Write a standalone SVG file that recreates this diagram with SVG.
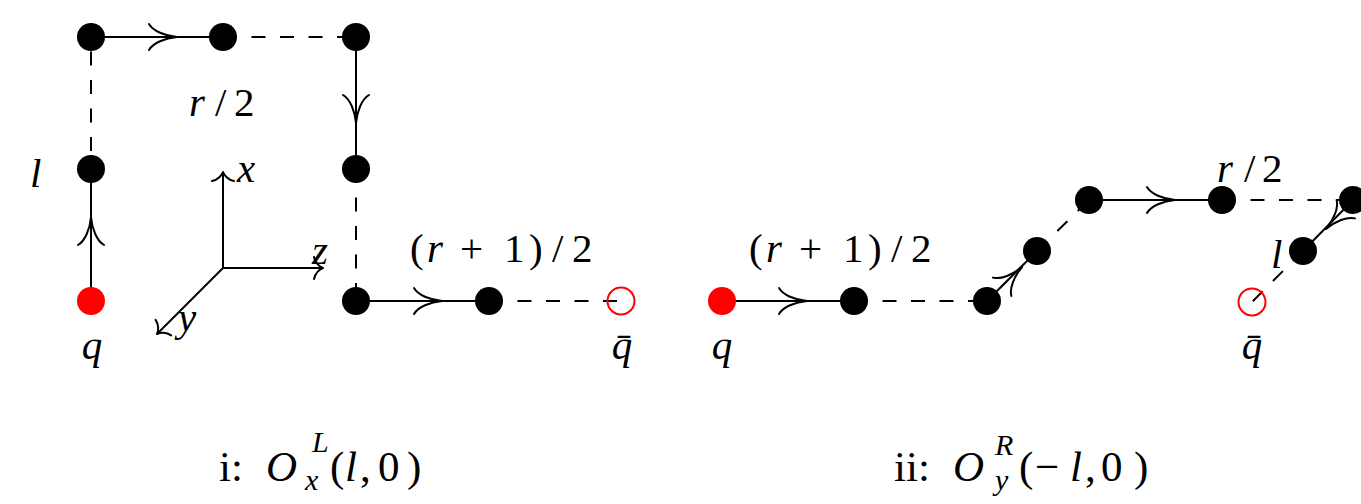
<svg xmlns="http://www.w3.org/2000/svg" width="1361" height="504" viewBox="0 0 1361 504">
<style>
.solid{stroke:#000;stroke-width:2;fill:none}
.dash{stroke:#000;stroke-width:2;fill:none;stroke-dasharray:14 14.5}
.ah{stroke:#000;stroke-width:2;fill:none;stroke-linecap:round}
.dot{fill:#000}
.red{fill:#ff0000}
.open{fill:none;stroke:#ff0000;stroke-width:2}
.t{font-family:"Liberation Serif","Times New Roman",serif;font-size:41px;fill:#000}
.cap{font-family:"Liberation Serif","Times New Roman",serif;font-size:43px;fill:#000}
.sc{font-family:"Liberation Serif","Times New Roman",serif;font-size:30px;fill:#000;font-style:italic}
.i{font-style:italic}
</style>
<defs>
<path id="ah" class="ah" d="M-28,-13 C-24,-6 -12,-1 0,0 M-28,13 C-24,6 -12,1 0,0"/>
<path id="sah" class="ah" d="M-9,-11 C-8,-5 -3,-1 0,0 M-9,11 C-8,5 -3,1 0,0"/>
</defs>
<g id="connectors">
<path class="solid" d="M91,301 V169"/>
<path class="solid" d="M91,37 H223"/>
<path class="solid" d="M356,37 V169"/>
<path class="solid" d="M356,301 H489"/>
<path class="dash" d="M91,51.5 V169"/>
<path class="dash" d="M223,37 H356"/>
<path class="dash" d="M356,169 V301"/>
<path class="dash" d="M489,301 H621"/>
<use href="#ah" transform="translate(91,217) rotate(-90)"/>
<use href="#ah" transform="translate(177,37)"/>
<use href="#ah" transform="translate(356,123) rotate(90)"/>
<use href="#ah" transform="translate(442,301)"/>
<path class="solid" d="M223,268 V172 M223,268 H323 M223,268 L157,334"/>
<use href="#sah" transform="translate(223,172) rotate(-90)"/>
<use href="#sah" transform="translate(323,268)"/>
<use href="#sah" transform="translate(157,334) rotate(135)"/>
<path class="solid" d="M722,301 H854"/>
<path class="solid" d="M987,301 L1037,251"/>
<path class="solid" d="M1089,200 H1222"/>
<path class="solid" d="M1353,200 L1303,251"/>
<path class="dash" d="M854,301 H987"/>
<path class="dash" d="M1037,251 L1089,200"/>
<path class="dash" d="M1222,200 H1353"/>
<path class="dash" d="M1303,251 L1252,302"/>
<use href="#ah" transform="translate(807,301)"/>
<use href="#ah" transform="translate(1022,267) rotate(-45)"/>
<use href="#ah" transform="translate(1175,200)"/>
<use href="#ah" transform="translate(1326,229) rotate(135)"/>
</g>
<g id="L-q"><circle class="red" cx="91" cy="301" r="14"/></g>
<g id="L-n1"><circle class="dot" cx="91" cy="37" r="14"/></g>
<g id="L-n2"><circle class="dot" cx="223" cy="37" r="14"/></g>
<g id="L-n3"><circle class="dot" cx="356" cy="37" r="14"/></g>
<g id="L-n4"><circle class="dot" cx="91" cy="169" r="14"/></g>
<g id="L-n5"><circle class="dot" cx="356" cy="169" r="14"/></g>
<g id="L-n6"><circle class="dot" cx="356" cy="301" r="14"/></g>
<g id="L-n7"><circle class="dot" cx="489" cy="301" r="14"/></g>
<g id="L-qbar"><circle class="open" cx="621" cy="301" r="13.5"/></g>
<g id="R-q"><circle class="red" cx="722" cy="301" r="14"/></g>
<g id="R-n1"><circle class="dot" cx="854" cy="301" r="14"/></g>
<g id="R-n2"><circle class="dot" cx="987" cy="301" r="14"/></g>
<g id="R-n3"><circle class="dot" cx="1037" cy="251" r="14"/></g>
<g id="R-n4"><circle class="dot" cx="1089" cy="200" r="14"/></g>
<g id="R-n5"><circle class="dot" cx="1222" cy="200" r="14"/></g>
<g id="R-n6"><circle class="dot" cx="1353" cy="200" r="14"/></g>
<g id="R-n7"><circle class="dot" cx="1303" cy="251" r="14"/></g>
<g id="R-qbar"><circle class="open" cx="1252" cy="302" r="13.5"/></g>
<g id="labels">
<text class="t" y="116"><tspan class="i" x="189">r</tspan><tspan x="215">/</tspan><tspan x="234">2</tspan></text>
<text class="t i" x="30" y="187">l</text>
<text class="t i" x="237" y="182">x</text>
<text class="t i" x="312" y="264">z</text>
<text class="t i" x="178" y="331">y</text>
<text class="t" y="262"><tspan x="410">(</tspan><tspan class="i" x="427">r</tspan><tspan x="460">+</tspan><tspan x="504">1</tspan><tspan x="529">)</tspan><tspan x="552">/</tspan><tspan x="572">2</tspan></text>
<text class="t i" x="92" y="359" text-anchor="middle">q</text>
<text class="t i" x="622" y="359" text-anchor="middle">q̄</text>
<text class="t" y="262"><tspan x="749">(</tspan><tspan class="i" x="766">r</tspan><tspan x="799">+</tspan><tspan x="843">1</tspan><tspan x="868">)</tspan><tspan x="891">/</tspan><tspan x="911">2</tspan></text>
<text class="t i" x="722" y="359" text-anchor="middle">q</text>
<text class="t" y="182"><tspan class="i" x="1217">r</tspan><tspan x="1244">/</tspan><tspan x="1262">2</tspan></text>
<text class="t i" x="1271" y="268">l</text>
<text class="t i" x="1252" y="359" text-anchor="middle">q̄</text>
</g>
<g id="caption-i">
<text class="cap" x="219" y="481">i:</text>
<text class="cap i" x="266" y="481">O</text>
<text class="sc" x="312" y="452">L</text>
<text class="sc" x="305" y="490">x</text>
<text class="cap" y="481"><tspan x="330">(</tspan><tspan class="i" x="345">l</tspan><tspan x="360">,</tspan><tspan x="378">0</tspan><tspan x="407">)</tspan></text>
</g>
<g id="caption-ii">
<text class="cap" x="894" y="481">ii:</text>
<text class="cap i" x="953" y="481">O</text>
<text class="sc" x="995" y="455">R</text>
<text class="sc" x="995" y="490">y</text>
<text class="cap" y="481"><tspan x="1019">(</tspan><tspan x="1035">−</tspan><tspan class="i" x="1070">l</tspan><tspan x="1085">,</tspan><tspan x="1101">0</tspan><tspan x="1134">)</tspan></text>
</g>
</svg>
